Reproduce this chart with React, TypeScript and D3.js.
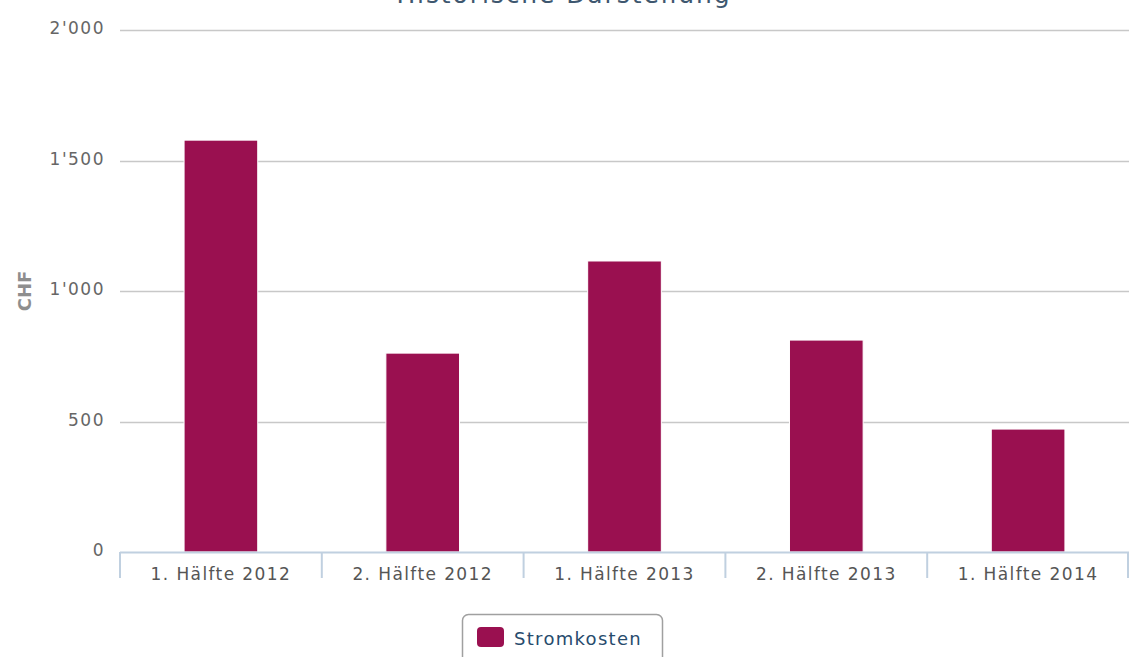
import React from "react";
import * as d3 from "d3";

const categories = ["1. Hälfte 2012", "2. Hälfte 2012", "1. Hälfte 2013", "2. Hälfte 2013", "1. Hälfte 2014"];
const stromkosten = [1578, 762, 1115, 812, 471];
const yTicks = [0, 500, 1000, 1500, 2000];
const title = "Historische Darstellung";
const seriesName = "Stromkosten";
const yTitle = "CHF";

const W = 1129;
const H = 657;
const plotLeft = 120;
const plotRight = 1129;
const plotTop = 30;
const plotBottom = 552;
const font = "'DejaVu Sans', Verdana, sans-serif";
const barColor = "#9A1050";

const fmt = (v: number) => {
  const s = String(v);
  return s.replace(/\B(?=(\d{3})+(?!\d))/g, "'");
};

export default function App() {
  const x = d3.scaleBand<string>().domain(categories).range([plotLeft, plotRight]).paddingInner(0).paddingOuter(0);
  const y = d3.scaleLinear().domain([0, 2000]).range([plotBottom, plotTop]);
  const bw = x.bandwidth() * 0.365;
  const boundaries = categories.map((c) => x(c)!).concat([plotRight]);

  return (
    <svg width={W} height={H} style={{ position: "absolute", left: 0, top: 0, background: "#fff" }}>
      <text x={564} y={3} textAnchor="middle" fontFamily={font} fontSize={25} letterSpacing={1.9} fill="#3E576F">{title}</text>
      {yTicks.map((t) => (
        <g key={t}>
          {t > 0 && <line x1={plotLeft} x2={plotRight} y1={Math.round(y(t)) + 0.5} y2={Math.round(y(t)) + 0.5} stroke="#C8C8C8" strokeWidth={1.5} />}
          <text x={105} y={y(t) + 4} textAnchor="end" fontFamily={font} fontSize={17} letterSpacing={1.5} fill="#666">{fmt(t)}</text>
        </g>
      ))}
      <text transform={`translate(31,291) rotate(-90)`} textAnchor="middle" fontFamily={font} fontSize={18} fontWeight="bold" fill="#8E8E8E">{yTitle}</text>
      {categories.map((c, i) => {
        const cx = x(c)! + x.bandwidth() / 2;
        const top = y(stromkosten[i]);
        return (
          <rect key={c} x={cx - bw / 2} y={top} width={bw} height={plotBottom - top} fill={barColor} stroke="#fff" strokeWidth={1} />
        );
      })}
      <line x1={plotLeft} x2={plotRight} y1={plotBottom + 0.5} y2={plotBottom + 0.5} stroke="#C0D0E0" strokeWidth={2} />
      {boundaries.map((b, i) => (
        <line key={i} x1={Math.min(b, plotRight - 1)} x2={Math.min(b, plotRight - 1)} y1={plotBottom} y2={plotBottom + 26} stroke="#C0D0E0" strokeWidth={2} />
      ))}
      {categories.map((c) => (
        <text key={c} x={x(c)! + x.bandwidth() / 2} y={580} textAnchor="middle" fontFamily={font} fontSize={17} letterSpacing={1.4} fill="#555">{c}</text>
      ))}
      <rect x={462.5} y={614.5} width={200} height={60} rx={6} fill="#fff" stroke="#A0A0A0" strokeWidth={1.5} />
      <rect x={477} y={627} width={27} height={20} rx={4} fill={barColor} />
      <text x={514} y={645} fontFamily={font} fontSize={18} letterSpacing={1.3} fill="#274B6D">{seriesName}</text>
    </svg>
  );
}
